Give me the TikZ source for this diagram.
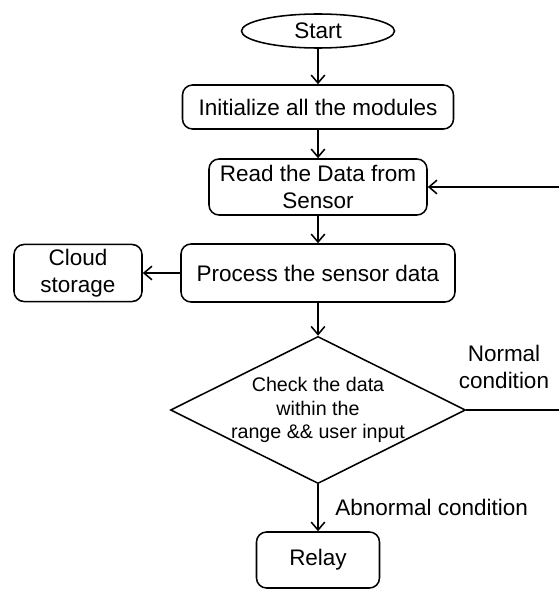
\documentclass[tikz,border=0pt]{standalone}
\usepackage{fontspec}
\setmainfont{Liberation Sans}
\usetikzlibrary{shapes,arrows.meta}

\begin{document}
\begin{tikzpicture}[node distance=2cm,>={Straight Barb[length=2mm,width=3.4mm]},line width=1.1pt]
  \tikzstyle{block}=[rectangle,rounded corners=2.5mm,draw,align=center,
  		     font=\fontsize{16}{19}\selectfont]
  \tikzstyle{terminal}=[ellipse,draw,inner sep=0pt,font=\fontsize{16}{19}\selectfont]
  \tikzstyle{decision}=[diamond,draw,aspect=2,inner xsep=-0.05cm,inner ysep=-0.05cm,
  			align=center,font=\fontsize{14}{17}\selectfont]
  \tikzstyle{cond text}=[align=center,font=\fontsize{16}{19}\selectfont]
  \useasboundingbox (0,0) rectangle (13.975,-14.725);
  \node [terminal,minimum width=3.825cm,minimum height=0.85cm] (start) at (7.95,-0.775) {Start};
  \node [block,minimum width=6.775cm,minimum height=1.1cm] (init)
    [below of=start,node distance=1.9cm] {Initialize all the modules};
  \node [block,minimum width=5.45cm,minimum height=1.4cm] (read)
    [below of=init,node distance=2cm] {Read the Data from\\Sensor};
  \node [block,minimum width=6.85cm,minimum height=1.45cm] (proc)
    [below of=read,node distance=2.15cm] {Process the sensor data};
  \node [block,minimum width=3.2cm,minimum height=1.425cm] (cloud)
    [left of=proc,node distance=6cm] {Cloud\\storage};
  \node [decision,minimum width=7.375cm,minimum height=3.65cm] (check)
    [below of=proc,node distance=3.425cm] {Check the data\\within the\\range \&\& user input};
  \node [block,minimum width=3.075cm,minimum height=1.4cm] (relay)
    [below of=check,node distance=3.75cm] {Relay};
  \node [cond text] (normal) at (12.6,-9.175) {Normal\\condition};
  \coordinate (edge) at (14.05,0);
  \draw [->] (start) -- (init);
  \draw [->] (init) -- (read);
  \draw [->] (read) -- (proc);
  \draw [->] (proc) -- (cloud);
  \draw [->] (proc) -- (check);
  \draw [->] (check) -- node[cond text,right,xshift=0.3cm] (abnormal) {Abnormal condition} (relay);
  % loop back to reading
  \draw [->] (check.east) -- (check.east -| edge) -- (read.east -| edge) -- (read.east);
\end{tikzpicture}
\end{document}
